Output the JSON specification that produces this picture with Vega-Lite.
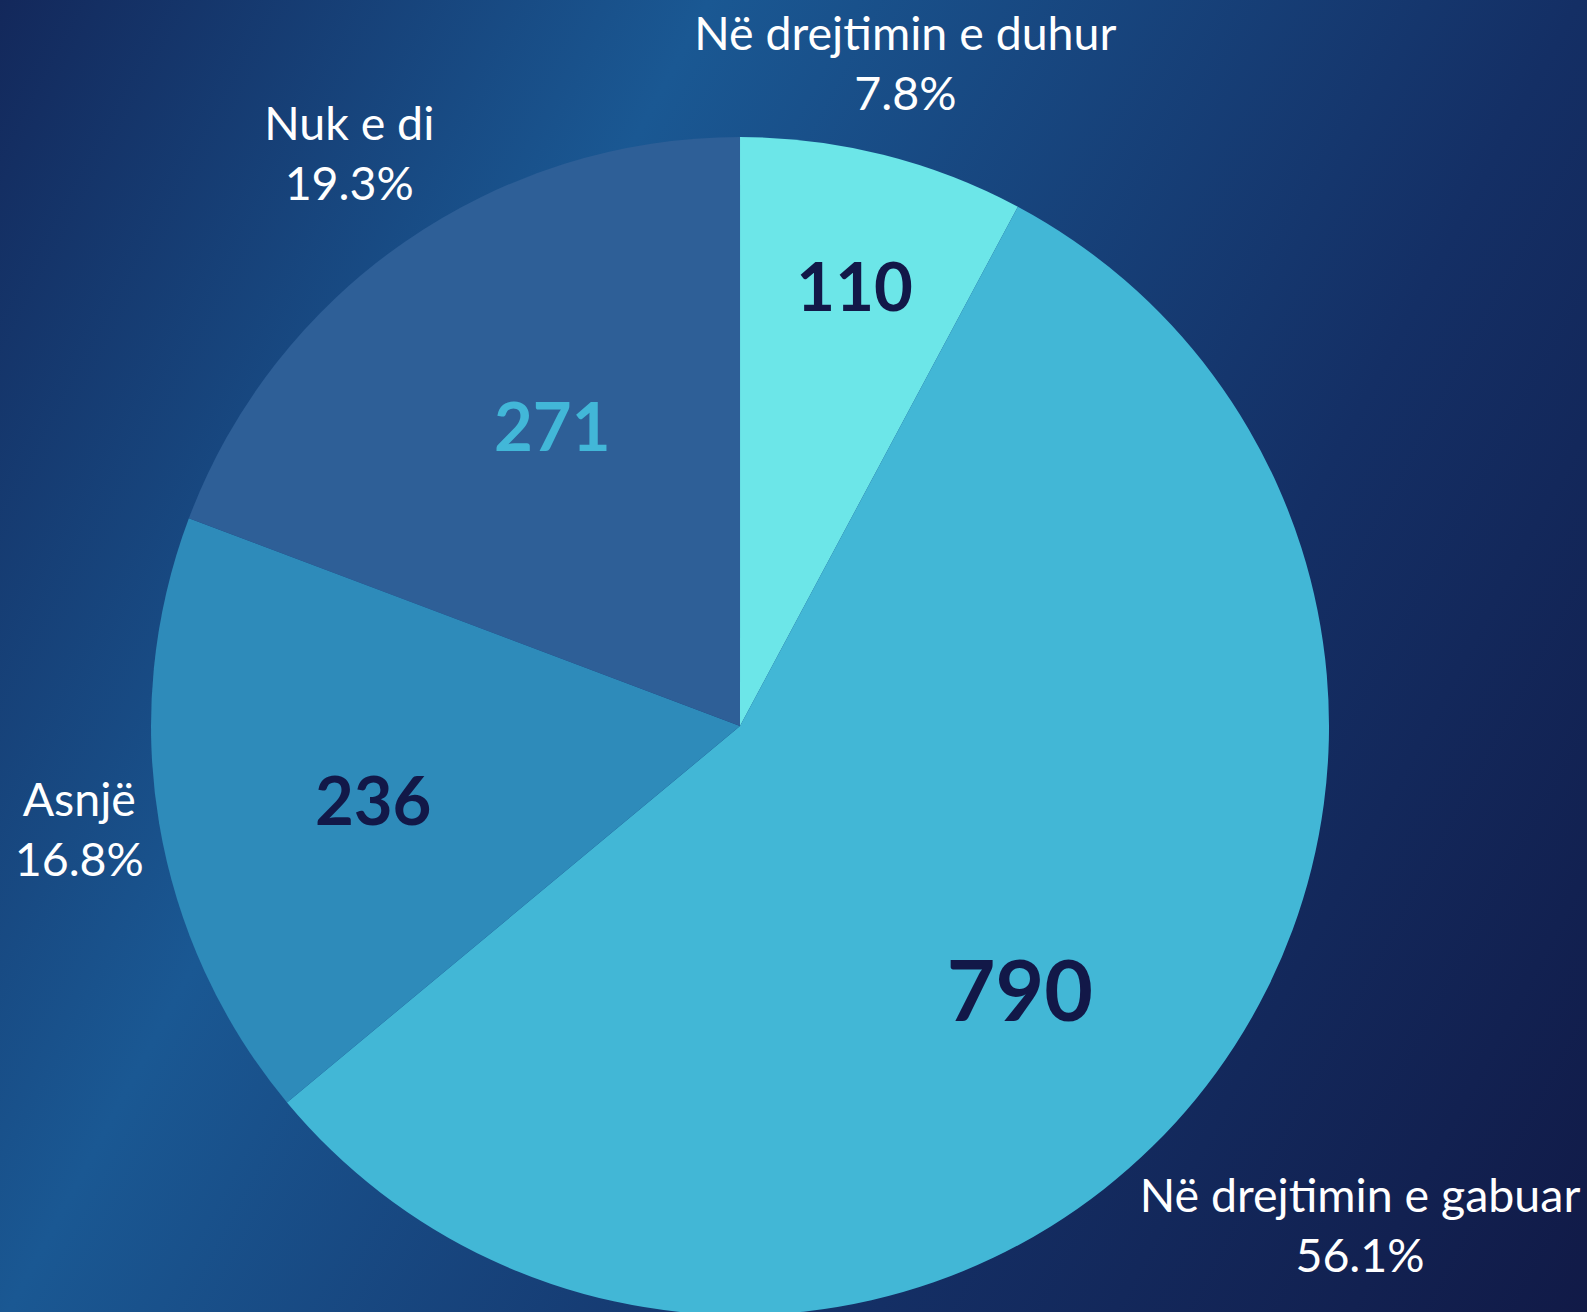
{
  "$schema": "https://vega.github.io/schema/vega-lite/v6.json",
  "width": 1587,
  "height": 1312,
  "autosize": {"type": "none"},
  "padding": 0,
  "background": "#16427a",
  "config": {"view": {"stroke": null}, "font": "Lato"},
  "data": {
    "values": [
      {"cat": "Në drejtimin e duhur", "value": 110, "pct": "7.8%", "order": 1},
      {"cat": "Në drejtimin e gabuar", "value": 790, "pct": "56.1%", "order": 2},
      {"cat": "Asnjë", "value": 236, "pct": "16.8%", "order": 3},
      {"cat": "Nuk e di", "value": 271, "pct": "19.3%", "order": 4}
    ]
  },
  "transform": [
    {"stack": "value", "groupby": [], "sort": [{"field": "order", "order": "ascending"}], "as": ["v0", "v1"]},
    {"calculate": "(datum.v0 + datum.v1) / 2", "as": "mid"},
    {"calculate": "datum.cat + '\\n' + datum.pct", "as": "label"}
  ],
  "resolve": {"scale": {"theta": "shared"}},
  "layer": [
    {
      "transform": [{"filter": "datum.order == 1"}],
      "mark": {
        "type": "rect",
        "color": {
          "gradient": "linear",
          "x1": 0, "y1": 0, "x2": 1.206, "y2": 0.533,
          "stops": [
            {"offset": 0, "color": "#13285b"},
            {"offset": 0.31, "color": "#1a5893"},
            {"offset": 0.69, "color": "#142f65"},
            {"offset": 1, "color": "#111a47"}
          ]
        }
      },
      "encoding": {}
    },
    {
      "mark": {"type": "arc", "radius": 589, "x": {"expr": "width * 0.4663"}, "y": {"expr": "height * 0.5534"}},
      "encoding": {
        "theta": {"field": "v0", "type": "quantitative", "stack": null, "scale": {"domain": [0, 1407]}},
        "theta2": {"field": "v1"},
        "color": {
          "field": "cat",
          "type": "nominal",
          "scale": {
            "domain": ["Në drejtimin e duhur", "Në drejtimin e gabuar", "Asnjë", "Nuk e di"],
            "range": ["#6ce6e8", "#42b7d6", "#2e8bba", "#2e5f97"]
          },
          "legend": null
        }
      }
    },
    {
      "transform": [{"filter": "datum.order == 1"}],
      "mark": {"type": "text", "radius": 455, "x": {"expr": "width * 0.4663"}, "y": {"expr": "height * 0.5534"}, "dx": 4, "dy": 6, "fontSize": 67, "fontWeight": "bold", "color": "#121848", "align": "center", "baseline": "middle"},
      "encoding": {"theta": {"field": "mid", "type": "quantitative", "stack": null}, "text": {"field": "value"}}
    },
    {
      "transform": [{"filter": "datum.order == 2"}],
      "mark": {"type": "text", "radius": 383, "x": {"expr": "width * 0.4663"}, "y": {"expr": "height * 0.5534"}, "dx": -17, "dy": 28, "fontSize": 84, "fontWeight": "bold", "color": "#121848", "align": "center", "baseline": "middle"},
      "encoding": {"theta": {"field": "mid", "type": "quantitative", "stack": null}, "text": {"field": "value"}}
    },
    {
      "transform": [{"filter": "datum.order == 3"}],
      "mark": {"type": "text", "radius": 374, "x": {"expr": "width * 0.4663"}, "y": {"expr": "height * 0.5534"}, "dx": 2, "dy": 17, "fontSize": 67, "fontWeight": "bold", "color": "#121848", "align": "center", "baseline": "middle"},
      "encoding": {"theta": {"field": "mid", "type": "quantitative", "stack": null}, "text": {"field": "value"}}
    },
    {
      "transform": [{"filter": "datum.order == 4"}],
      "mark": {"type": "text", "radius": 353, "x": {"expr": "width * 0.4663"}, "y": {"expr": "height * 0.5534"}, "dx": 13, "dy": -5, "fontSize": 67, "fontWeight": "bold", "color": "#42b7d8", "align": "center", "baseline": "middle"},
      "encoding": {"theta": {"field": "mid", "type": "quantitative", "stack": null}, "text": {"field": "value"}}
    },
    {
      "transform": [{"filter": "datum.order == 1"}],
      "mark": {"type": "text", "radius": 680, "x": {"expr": "width * 0.4663"}, "y": {"expr": "height * 0.5534"}, "dy": -30, "fontSize": 46.5, "lineHeight": 60, "lineBreak": "\n", "color": "white", "align": "center", "baseline": "middle"},
      "encoding": {"theta": {"field": "mid", "type": "quantitative", "stack": null}, "text": {"field": "label"}}
    },
    {
      "transform": [{"filter": "datum.order == 2"}],
      "mark": {"type": "text", "radius": 795, "x": {"expr": "width * 0.4663"}, "y": {"expr": "height * 0.5534"}, "dx": 4, "dy": -31, "fontSize": 46.5, "lineHeight": 60, "lineBreak": "\n", "color": "white", "align": "center", "baseline": "middle"},
      "encoding": {"theta": {"field": "mid", "type": "quantitative", "stack": null}, "text": {"field": "label"}}
    },
    {
      "transform": [{"filter": "datum.order == 3"}],
      "mark": {"type": "text", "radius": 670, "x": {"expr": "width * 0.4663"}, "y": {"expr": "height * 0.5534"}, "dy": -35, "fontSize": 46.5, "lineHeight": 60, "lineBreak": "\n", "color": "white", "align": "center", "baseline": "middle"},
      "encoding": {"theta": {"field": "mid", "type": "quantitative", "stack": null}, "text": {"field": "label"}}
    },
    {
      "transform": [{"filter": "datum.order == 4"}],
      "mark": {"type": "text", "radius": 687, "x": {"expr": "width * 0.4663"}, "y": {"expr": "height * 0.5534"}, "dy": -35, "fontSize": 46.5, "lineHeight": 60, "lineBreak": "\n", "color": "white", "align": "center", "baseline": "middle"},
      "encoding": {"theta": {"field": "mid", "type": "quantitative", "stack": null}, "text": {"field": "label"}}
    }
  ]
}
